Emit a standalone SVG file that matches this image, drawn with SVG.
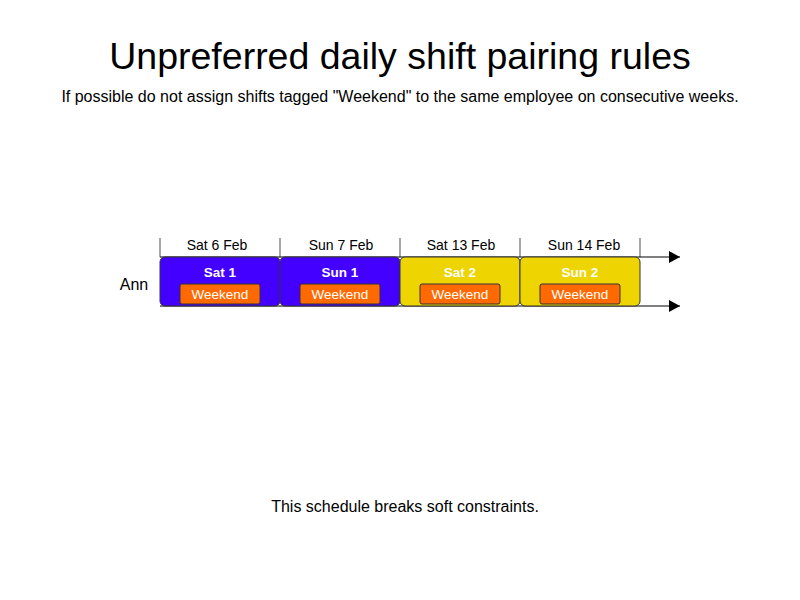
<svg xmlns="http://www.w3.org/2000/svg" width="800" height="600" viewBox="0 0 800 600">
<defs>
<marker id="arr" markerWidth="12" markerHeight="12" refX="11" refY="6" orient="auto" markerUnits="userSpaceOnUse">
<path d="M0,0 L11,6 L0,12 Z" fill="#000"/>
</marker>
<style>
text{font-family:"Liberation Sans",Arial,sans-serif}
.title{font-size:37.5px;text-anchor:middle}
.sub{font-size:16px;text-anchor:middle}
.date{font-size:14px;text-anchor:middle}
.name{font-size:13.5px;font-weight:bold;fill:#fff;text-anchor:middle}
.tagt{font-size:13.5px;fill:#fff;text-anchor:middle}
.tick{stroke:#000;stroke-width:0.7}
.axis{stroke:#000;stroke-width:1;fill:none}
.blue{fill:#4400FF;stroke:#333;stroke-width:1}
.yellow{fill:#EED400;stroke:#333;stroke-width:1}
.tag{fill:#FF6A00;stroke:#333;stroke-width:1}
</style>
</defs>
<rect width="800" height="600" fill="#fff"/>
<text class="title" x="400" y="69">Unpreferred daily shift pairing rules</text>
<text class="sub" x="400" y="102">If possible do not assign shifts tagged "Weekend" to the same employee on consecutive weeks.</text>
<text x="134" y="290" style="font-size:16px;text-anchor:middle">Ann</text>
<g id="timeline">
<line class="tick" x1="160" y1="238" x2="160" y2="257"/>
<line class="tick" x1="280" y1="238" x2="280" y2="257"/>
<line class="tick" x1="400" y1="238" x2="400" y2="257"/>
<line class="tick" x1="520" y1="238" x2="520" y2="257"/>
<line class="tick" x1="640" y1="238" x2="640" y2="257"/>
<text class="date" x="217" y="250">Sat 6 Feb</text>
<text class="date" x="341" y="250">Sun 7 Feb</text>
<text class="date" x="461" y="250">Sat 13 Feb</text>
<text class="date" x="584" y="250">Sun 14 Feb</text>
</g>
<g id="connectors">
<line class="axis" x1="160" y1="257" x2="680" y2="257" marker-end="url(#arr)"/>
<line class="axis" x1="160" y1="306" x2="680" y2="306" marker-end="url(#arr)"/>
</g>
<g id="sat1">
<rect class="blue" x="160" y="257" width="120" height="49" rx="5"/>
<text class="name" x="220" y="277">Sat 1</text>
<rect class="tag" x="180" y="284" width="80" height="20" rx="2"/>
<text class="tagt" x="220" y="299">Weekend</text>
</g>
<g id="sun1">
<rect class="blue" x="280" y="257" width="120" height="49" rx="5"/>
<text class="name" x="340" y="277">Sun 1</text>
<rect class="tag" x="300" y="284" width="80" height="20" rx="2"/>
<text class="tagt" x="340" y="299">Weekend</text>
</g>
<g id="sat2">
<rect class="yellow" x="400" y="257" width="120" height="49" rx="5"/>
<text class="name" x="460" y="277">Sat 2</text>
<rect class="tag" x="420" y="284" width="80" height="20" rx="2"/>
<text class="tagt" x="460" y="299">Weekend</text>
</g>
<g id="sun2">
<rect class="yellow" x="520" y="257" width="120" height="49" rx="5"/>
<text class="name" x="580" y="277">Sun 2</text>
<rect class="tag" x="540" y="284" width="80" height="20" rx="2"/>
<text class="tagt" x="580" y="299">Weekend</text>
</g>
<text class="sub" x="405" y="512">This schedule breaks soft constraints.</text>
</svg>
